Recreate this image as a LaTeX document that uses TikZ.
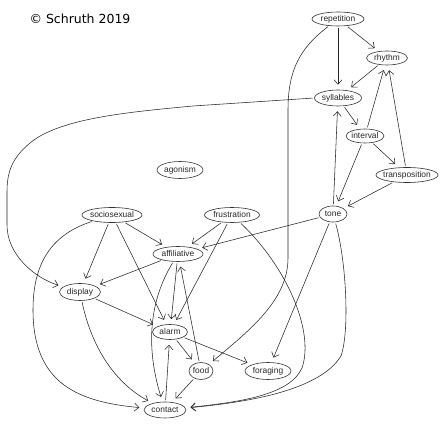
\documentclass[tikz,border=0pt]{standalone}
\usepackage{fontspec}
\setmainfont{Liberation Sans}
\newfontfamily\titlefont{DejaVu Sans}
\usetikzlibrary{shapes.geometric,arrows.meta}
\tikzset{
  nd/.style={ellipse, draw=black!80, line width=0.6pt, inner sep=0pt},
  lbl/.style={font=\fontsize{8.4}{10}\selectfont, inner sep=0pt, text=black!85},
  ed/.style={draw=black!85, line width=0.55pt, -{Straight Barb[length=4.5pt,width=8pt]}, shorten >=5pt, shorten <=1.5pt},
}
\newcommand\gnode[6]{\node[nd, minimum width=#4pt, minimum height=#5pt, label={[lbl]center:#6}] (#1) at (#2,#3) {};}
\begin{document}
\begin{tikzpicture}[x=1pt,y=-1pt]
\useasboundingbox (0,0) rectangle (448,427);
\node[font=\titlefont\fontsize{12.5}{14}\selectfont, inner sep=0pt] (title) at (80,19) {© Schruth 2019};
\gnode{rep}{338}{19}{52}{14}{repetition}
\gnode{rhy}{387}{58}{41}{14}{rhythm}
\gnode{syl}{338}{98}{47}{16}{syllables}
\gnode{int}{365}{136}{38}{14}{interval}
\gnode{tra}{407}{175}{62}{15}{transposition}
\gnode{ton}{333}{214}{28}{16}{tone}
\gnode{fru}{232}{215}{55}{15}{frustration}
\gnode{soc}{112}{215}{60}{15}{sociosexual}
\gnode{ago}{180}{170}{46}{17}{agonism}
\gnode{aff}{178}{254}{50}{15}{affiliative}
\gnode{dis}{80}{292}{41}{17}{display}
\gnode{ala}{170}{332}{35}{15}{alarm}
\gnode{foo}{201}{371}{24}{17}{food}
\gnode{for}{268}{371}{46}{17}{foraging}
\gnode{con}{165}{410}{42}{16}{contact}
% straight edges
\draw[ed] (rep) -- (rhy);
\draw[ed] (rep) -- (syl);
\draw[ed] (rhy) -- (syl);
\draw[ed] (syl) -- (int);
\draw[ed] (int) -- (rhy);
\draw[ed] (int) -- (tra);
\draw[ed] (int) -- (ton);
\draw[ed] (tra) -- (rhy);
\draw[ed] (tra) -- (ton);
\draw[ed] (ton) -- (syl);
\draw[ed] (ton) -- (aff);
\draw[ed] (ton) -- (for);
\draw[ed] (fru) -- (aff);
\draw[ed] (fru) -- (ala);
\draw[ed] (soc) -- (aff);
\draw[ed] (soc) -- (dis);
\draw[ed] (soc) -- (ala);
\draw[ed] (aff) -- (dis);
\draw[ed] (aff) -- (ala);
\draw[ed] (dis) -- (ala);
\draw[ed] (ala) -- (foo);
\draw[ed] (ala) -- (for);
\draw[ed] (foo) -- (aff);
\draw[ed] (foo) -- (con);
\draw[ed] (con) -- (ala);
% curved edges
\draw[ed] (rep) .. controls (300,48) and (288,70) .. (288,110) -- (288,258) .. controls (288,300) and (250,330) .. (foo);
\draw[ed] (syl.west) -- (193,106) .. controls (130,112) and (60,118) .. (30,143) .. controls (12,158) and (7,172) .. (7,192) -- (7,225) .. controls (7,255) and (35,278) .. (dis);
\draw[ed] (soc) .. controls (50,235) and (33,265) .. (33,310) .. controls (33,385) and (80,402) .. (con);
\draw[ed] (dis) .. controls (90,340) and (110,380) .. (con);
\draw[ed] (aff) .. controls (150,300) and (145,345) .. (con);
\draw[ed] (fru) .. controls (285,265) and (315,330) .. (302,368) .. controls (290,395) and (240,402) .. (con);
\draw[ed] (ton) .. controls (346,260) and (350,330) .. (341,356) .. controls (320,390) and (250,402) .. (con);
\end{tikzpicture}
\end{document}
